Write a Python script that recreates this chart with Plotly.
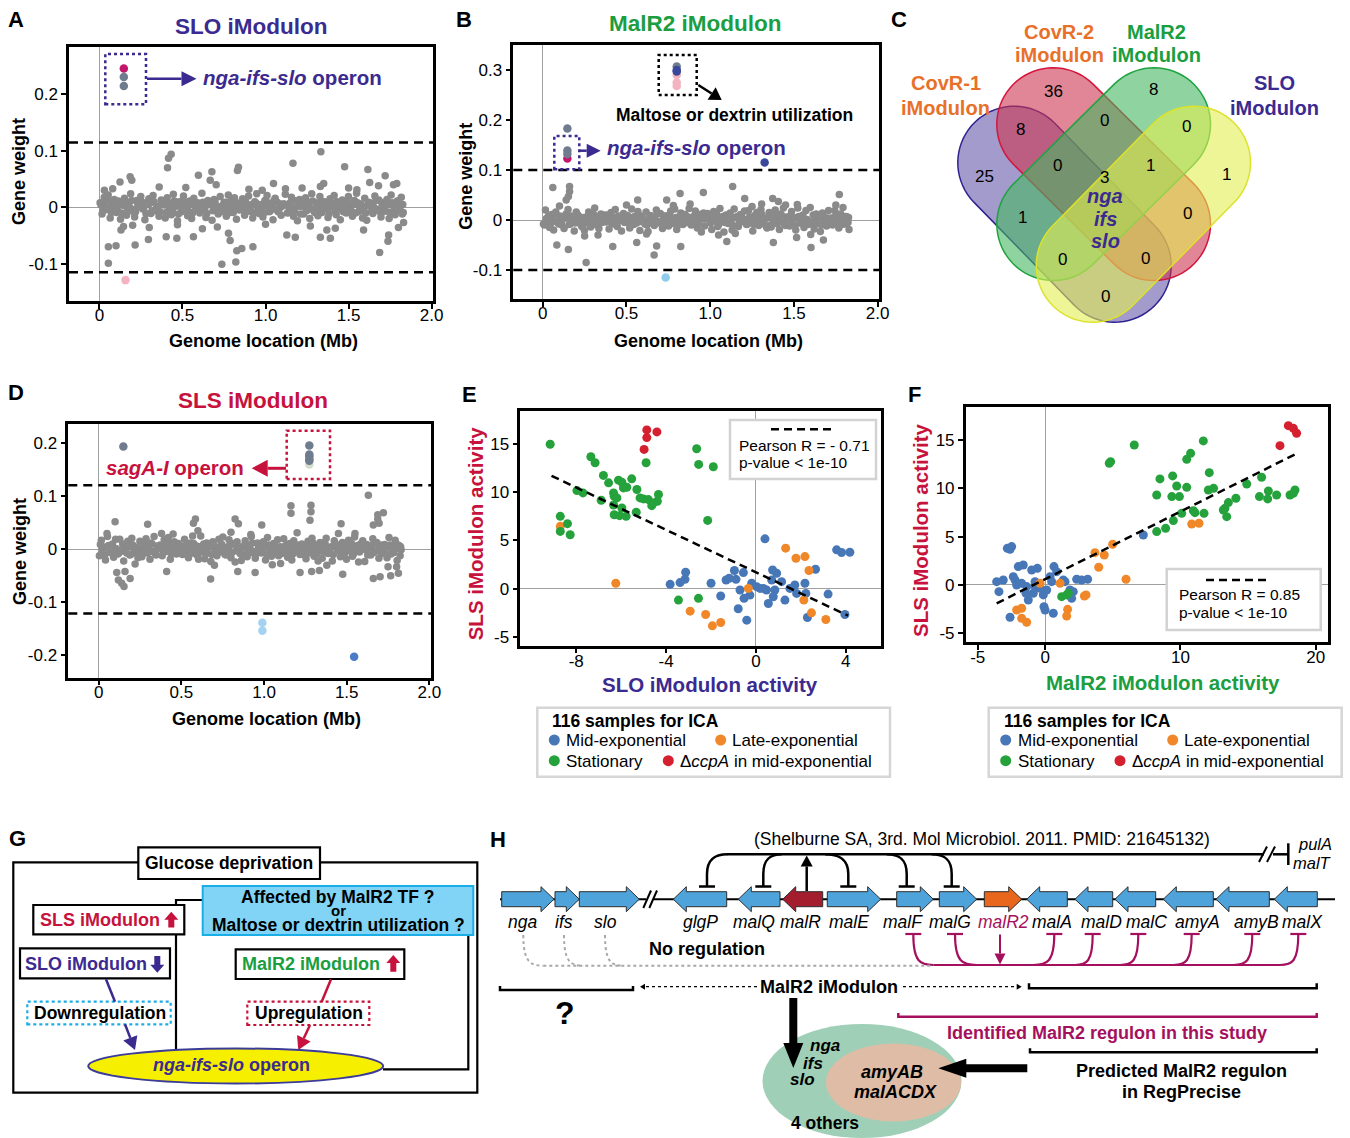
import math
import plotly.graph_objects as go

W, H = 1350, 1138
FONT = "Liberation Sans, Arial, sans-serif"

# ======================= DATA =======================
# genome locations (Mb) of background genes (shared by panels A, B, D)
gene_loc = [0.004,0.016,0.029,0.041,0.053,0.065,0.078,0.09,0.102,0.114,
            0.127,0.139,0.151,0.163,0.176,0.188,0.2,0.212,0.225,0.237,
            0.249,0.261,0.274,0.286,0.298,0.31,0.323,0.335,0.347,0.359,
            0.372,0.384,0.396,0.408,0.421,0.433,0.445,0.457,0.47,0.482,
            0.494,0.506,0.519,0.531,0.543,0.555,0.568,0.58,0.592,0.604,
            0.617,0.629,0.641,0.653,0.666,0.678,0.69,0.702,0.715,0.727,
            0.739,0.751,0.764,0.776,0.788,0.8,0.813,0.825,0.837,0.849,
            0.862,0.874,0.886,0.898,0.911,0.923,0.935,0.947,0.96,0.972,
            0.984,0.996,1.009,1.021,1.033,1.045,1.058,1.07,1.082,1.094,
            1.107,1.119,1.131,1.143,1.156,1.168,1.18,1.192,1.205,1.217,
            1.229,1.241,1.254,1.266,1.278,1.29,1.303,1.315,1.327,1.339,
            1.352,1.364,1.376,1.388,1.401,1.413,1.425,1.437,1.45,1.462,
            1.474,1.486,1.499,1.511,1.523,1.535,1.548,1.56,1.572,1.584,
            1.597,1.609,1.621,1.633,1.646,1.658,1.67,1.682,1.695,1.707,
            1.719,1.731,1.744,1.756,1.768,1.78,1.793,1.805,1.817,1.829]
gene_loc2 = [0.01,0.022,0.035,0.047,0.059,0.071,0.084,0.096,0.108,0.12,
             0.133,0.145,0.157,0.169,0.182,0.194,0.206,0.218,0.231,0.243,
             0.255,0.267,0.28,0.292,0.304,0.316,0.329,0.341,0.353,0.365,
             0.378,0.39,0.402,0.414,0.427,0.439,0.451,0.463,0.476,0.488,
             0.5,0.512,0.525,0.537,0.549,0.561,0.574,0.586,0.598,0.61,
             0.623,0.635,0.647,0.659,0.672,0.684,0.696,0.708,0.721,0.733,
             0.745,0.757,0.77,0.782,0.794,0.806,0.819,0.831,0.843,0.855,
             0.868,0.88,0.892,0.904,0.917,0.929,0.941,0.953,0.966,0.978,
             0.99,1.002,1.015,1.027,1.039,1.051,1.064,1.076,1.088,1.1,
             1.113,1.125,1.137,1.149,1.162,1.174,1.186,1.198,1.211,1.223,
             1.235,1.247,1.26,1.272,1.284,1.296,1.309,1.321,1.333,1.345,
             1.358,1.37,1.382,1.394,1.407,1.419,1.431,1.443,1.456,1.468,
             1.48,1.492,1.505,1.517,1.529,1.541,1.554,1.566,1.578,1.59,
             1.603,1.615,1.627,1.639,1.652,1.664,1.676,1.688,1.701,1.713,
             1.725,1.737,1.75,1.762,1.774,1.786,1.799,1.811,1.823,1.826]

w_slo = [0.008,-0.012,0.018,-0.004,0.022,-0.019,0.003,0.014,-0.009,0.011,
         -0.021,0.006,0.016,-0.014,0.001,0.024,-0.007,-0.017,0.012,0.004,
         0.019,-0.003,-0.022,0.009,0.015,-0.011,0.021,-0.006,0.002,-0.016,
         0.013,0.007,-0.019,0.017,-0.001,-0.013,0.023,0.005,-0.024,0.01,
         -0.008,0.02,0.003,-0.015,0.011,-0.02,0.016,-0.002,0.008,-0.01,
         0.025,-0.005,-0.018,0.012,0.006,-0.023,0.014,0.0,-0.012,0.019,
         -0.004,0.009,-0.016,0.022,-0.009,0.004,0.017,-0.021,0.007,-0.001,
         0.015,-0.014,0.002,0.02,-0.006,-0.019,0.01,0.024,-0.011,0.005,
         -0.017,0.012,0.021,-0.008,0.003,-0.022,0.016,0.009,-0.003,-0.014,
         0.006,0.023,-0.01,-0.001,0.018,-0.016,0.011,-0.024,0.014,0.002,
         -0.012,0.017,0.004,-0.02,0.024,-0.006,0.008,-0.015,0.019,-0.009,
         0.01,-0.002,-0.018,0.015,0.001,0.021,-0.013,0.007,-0.022,0.013,
         0.003,-0.01,0.019,-0.005,-0.016,0.012,0.025,-0.008,0.006,-0.019,
         0.016,-0.023,0.009,0.002,-0.011,0.02,-0.004,0.013,-0.017,0.008,
         -0.007,0.014,-0.02,0.022,0.005,-0.013,0.011,-0.001,0.018,-0.009]
w2_slo = [0.004,-0.006,0.009,-0.002,0.011,-0.009,0.001,0.007,-0.005,0.005,
          -0.01,0.003,0.008,-0.007,0.0,0.012,-0.004,-0.008,0.006,0.002,
          0.009,-0.001,-0.011,0.005,0.007,-0.006,0.01,-0.003,0.001,-0.008,
          0.006,0.004,-0.009,0.008,-0.001,-0.006,0.011,0.002,-0.012,0.005,
          -0.004,0.01,0.002,-0.007,0.005,-0.01,0.008,-0.001,0.004,-0.005,
          0.009,-0.001,-0.011,0.005,0.007,-0.006,0.01,-0.003,0.001,-0.008,
          0.004,-0.006,0.009,-0.002,0.011,-0.009,0.001,0.007,-0.005,0.005,
          -0.004,0.01,0.002,-0.007,0.005,-0.01,0.008,-0.001,0.004,-0.005,
          -0.01,0.003,0.008,-0.007,0.0,0.012,-0.004,-0.008,0.006,0.002,
          0.006,0.004,-0.009,0.008,-0.001,-0.006,0.011,0.002,-0.012,0.005,
          0.004,-0.006,0.009,-0.002,0.011,-0.009,0.001,0.007,-0.005,0.005,
          0.009,-0.001,-0.011,0.005,0.007,-0.006,0.01,-0.003,0.001,-0.008,
          -0.004,0.01,0.002,-0.007,0.005,-0.01,0.008,-0.001,0.004,-0.005,
          -0.01,0.003,0.008,-0.007,0.0,0.012,-0.004,-0.008,0.006,0.002,
          0.006,0.004,-0.009,0.008,-0.001,-0.006,0.011,0.002,-0.012,0.005]

w_malr2 = [-0.008,0.02,0.003,-0.015,0.011,-0.02,0.016,-0.002,0.008,-0.01,
           -0.017,0.012,0.021,-0.008,0.003,-0.022,0.016,0.009,-0.003,-0.014,
           -0.021,0.006,0.016,-0.014,0.001,0.024,-0.007,-0.017,0.012,0.004,
           0.01,-0.002,-0.018,0.015,0.001,0.021,-0.013,0.007,-0.022,0.013,
           -0.004,0.009,-0.016,0.022,-0.009,0.004,0.017,-0.021,0.007,-0.001,
           0.016,-0.023,0.009,0.002,-0.011,0.02,-0.004,0.013,-0.017,0.008,
           0.008,-0.012,0.018,-0.004,0.022,-0.019,0.003,0.014,-0.009,0.011,
           0.006,0.023,-0.01,-0.001,0.018,-0.016,0.011,-0.024,0.014,0.002,
           0.013,0.007,-0.019,0.017,-0.001,-0.013,0.023,0.005,-0.024,0.01,
           -0.007,0.014,-0.02,0.022,0.005,-0.013,0.011,-0.001,0.018,-0.009,
           0.019,-0.003,-0.022,0.009,0.015,-0.011,0.021,-0.006,0.002,-0.016,
           0.015,-0.014,0.002,0.02,-0.006,-0.019,0.01,0.024,-0.011,0.005,
           -0.012,0.017,0.004,-0.02,0.024,-0.006,0.008,-0.015,0.019,-0.009,
           0.025,-0.005,-0.018,0.012,0.006,-0.023,0.014,0.0,-0.012,0.019,
           0.003,-0.01,0.019,-0.005,-0.016,0.012,0.025,-0.008,0.006,-0.019]
w2_malr2 = [-0.01,0.003,0.008,-0.007,0.0,0.012,-0.004,-0.008,0.006,0.002,
            0.006,0.004,-0.009,0.008,-0.001,-0.006,0.011,0.002,-0.012,0.005,
            0.004,-0.006,0.009,-0.002,0.011,-0.009,0.001,0.007,-0.005,0.005,
            -0.004,0.01,0.002,-0.007,0.005,-0.01,0.008,-0.001,0.004,-0.005,
            0.009,-0.001,-0.011,0.005,0.007,-0.006,0.01,-0.003,0.001,-0.008,
            -0.01,0.003,0.008,-0.007,0.0,0.012,-0.004,-0.008,0.006,0.002,
            -0.004,0.01,0.002,-0.007,0.005,-0.01,0.008,-0.001,0.004,-0.005,
            0.006,0.004,-0.009,0.008,-0.001,-0.006,0.011,0.002,-0.012,0.005,
            0.004,-0.006,0.009,-0.002,0.011,-0.009,0.001,0.007,-0.005,0.005,
            0.009,-0.001,-0.011,0.005,0.007,-0.006,0.01,-0.003,0.001,-0.008,
            0.006,0.004,-0.009,0.008,-0.001,-0.006,0.011,0.002,-0.012,0.005,
            -0.01,0.003,0.008,-0.007,0.0,0.012,-0.004,-0.008,0.006,0.002,
            0.009,-0.001,-0.011,0.005,0.007,-0.006,0.01,-0.003,0.001,-0.008,
            -0.004,0.01,0.002,-0.007,0.005,-0.01,0.008,-0.001,0.004,-0.005,
            0.004,-0.006,0.009,-0.002,0.011,-0.009,0.001,0.007,-0.005,0.005]

w_sls = [-0.012,0.017,0.004,-0.02,0.024,-0.006,0.008,-0.015,0.019,-0.009,
         0.019,-0.003,-0.022,0.009,0.015,-0.011,0.021,-0.006,0.002,-0.016,
         0.015,-0.014,0.002,0.02,-0.006,-0.019,0.01,0.024,-0.011,0.005,
         0.008,-0.012,0.018,-0.004,0.022,-0.019,0.003,0.014,-0.009,0.011,
         0.003,-0.01,0.019,-0.005,-0.016,0.012,0.025,-0.008,0.006,-0.019,
         0.025,-0.005,-0.018,0.012,0.006,-0.023,0.014,0.0,-0.012,0.019,
         0.006,0.023,-0.01,-0.001,0.018,-0.016,0.011,-0.024,0.014,0.002,
         -0.021,0.006,0.016,-0.014,0.001,0.024,-0.007,-0.017,0.012,0.004,
         -0.007,0.014,-0.02,0.022,0.005,-0.013,0.011,-0.001,0.018,-0.009,
         -0.008,0.02,0.003,-0.015,0.011,-0.02,0.016,-0.002,0.008,-0.01,
         0.01,-0.002,-0.018,0.015,0.001,0.021,-0.013,0.007,-0.022,0.013,
         -0.017,0.012,0.021,-0.008,0.003,-0.022,0.016,0.009,-0.003,-0.014,
         0.013,0.007,-0.019,0.017,-0.001,-0.013,0.023,0.005,-0.024,0.01,
         0.016,-0.023,0.009,0.002,-0.011,0.02,-0.004,0.013,-0.017,0.008,
         -0.004,0.009,-0.016,0.022,-0.009,0.004,0.017,-0.021,0.007,-0.001]
w2_sls = [0.009,-0.001,-0.011,0.005,0.007,-0.006,0.01,-0.003,0.001,-0.008,
          -0.004,0.01,0.002,-0.007,0.005,-0.01,0.008,-0.001,0.004,-0.005,
          -0.01,0.003,0.008,-0.007,0.0,0.012,-0.004,-0.008,0.006,0.002,
          0.004,-0.006,0.009,-0.002,0.011,-0.009,0.001,0.007,-0.005,0.005,
          0.006,0.004,-0.009,0.008,-0.001,-0.006,0.011,0.002,-0.012,0.005,
          -0.004,0.01,0.002,-0.007,0.005,-0.01,0.008,-0.001,0.004,-0.005,
          0.009,-0.001,-0.011,0.005,0.007,-0.006,0.01,-0.003,0.001,-0.008,
          -0.01,0.003,0.008,-0.007,0.0,0.012,-0.004,-0.008,0.006,0.002,
          0.006,0.004,-0.009,0.008,-0.001,-0.006,0.011,0.002,-0.012,0.005,
          0.004,-0.006,0.009,-0.002,0.011,-0.009,0.001,0.007,-0.005,0.005,
          -0.01,0.003,0.008,-0.007,0.0,0.012,-0.004,-0.008,0.006,0.002,
          -0.004,0.01,0.002,-0.007,0.005,-0.01,0.008,-0.001,0.004,-0.005,
          0.004,-0.006,0.009,-0.002,0.011,-0.009,0.001,0.007,-0.005,0.005,
          0.009,-0.001,-0.011,0.005,0.007,-0.006,0.01,-0.003,0.001,-0.008,
          0.006,0.004,-0.009,0.008,-0.001,-0.006,0.011,0.002,-0.012,0.005]

# scattered (non-member) genes off the core band
a_out_x = [0.432,0.416,1.333,1.165,1.476,1.616,1.72,0.41,0.837,0.831,0.677,0.667,0.596,0.185,0.054,0.1,0.054,0.215,
           0.737,0.821,0.827,0.857,0.787,0.777,0.924,1.687,1.741,1.737,1.369,1.39,1.33,1.179,1.128,0.466,0.402,0.566,
           0.295,1.59,0.13,0.145,1.831,1.79,1.77,1.35,1.627,1.33,1.048,0.195,0.124,0.703,
           0.08,0.3,0.52,0.62,0.9,1.0,1.22,1.42,1.55,1.68,0.2,0.36,0.71,0.98,1.27,1.5,1.8,0.03,0.47,1.12]
a_out_y = [0.094,0.087,0.0985,0.078,0.072,0.067,0.056,0.07,0.071,0.065,0.063,0.048,0.057,0.054,-0.07,-0.068,-0.099,-0.067,
           -0.101,-0.097,-0.077,-0.073,-0.059,-0.046,-0.07,-0.08,-0.049,-0.06,-0.04,-0.055,-0.053,-0.053,-0.049,-0.055,-0.052,-0.052,
           -0.057,-0.04,-0.04,-0.034,-0.027,0.042,0.04,0.042,0.044,0.037,0.042,0.048,0.045,0.04,
           0.033,-0.036,0.035,-0.038,0.032,-0.03,0.034,-0.037,0.031,0.038,-0.032,0.036,-0.035,0.03,-0.033,0.034,-0.036,0.03,-0.031,0.033]
b_out_x = [0.06,0.16,0.16,0.153,0.14,1.134,0.959,0.82,0.74,1.771,1.373,1.407,1.307,1.206,0.567,0.084,0.153,0.259,0.665,
           0.418,0.68,0.824,1.377,1.602,1.516,1.099,0.561,1.676,
           0.1,0.33,0.5,0.62,0.88,1.05,1.25,1.45,1.6,1.75,0.25,0.78,1.15,1.52]
b_out_y = [0.065,0.067,0.057,0.047,0.04,0.067,0.055,0.053,0.04,0.051,0.043,0.037,0.032,0.043,0.04,-0.05,-0.059,-0.085,-0.07,
           -0.053,-0.052,-0.053,-0.045,-0.055,-0.035,-0.043,-0.045,-0.04,
           0.028,-0.03,0.03,-0.028,0.032,-0.03,0.027,0.03,-0.029,0.03,-0.032,0.029,-0.027,0.031]
d_out_x = [1.631,1.163,1.163,1.284,1.284,1.278,1.722,1.688,1.688,1.696,1.661,0.825,0.845,0.585,0.573,0.099,0.296,0.986,1.466,
           0.109,0.119,0.153,0.139,0.19,0.159,0.677,0.841,0.946,1.218,1.288,1.335,1.476,1.661,1.702,1.766,1.813,1.802,0.411,
           0.05,0.22,0.38,0.6,0.7,0.92,1.05,1.2,1.38,1.55,1.75,0.45,0.8,1.1,1.45]
d_out_y = [0.102,0.082,0.068,0.083,0.071,0.055,0.069,0.065,0.057,0.049,0.046,0.057,0.048,0.057,0.049,0.052,0.047,0.046,0.048,
           -0.044,-0.058,-0.07,-0.064,-0.055,-0.042,-0.056,-0.042,-0.044,-0.044,-0.042,-0.04,-0.047,-0.055,-0.052,-0.05,-0.045,-0.033,-0.042,
           0.03,-0.028,0.03,0.035,-0.03,0.028,-0.029,0.031,-0.03,0.03,-0.033,0.029,0.032,-0.027,0.03]

# highlighted member genes
a_hi_x = [0.147, 0.147, 0.147, 0.157]
a_hi_y = [0.246, 0.231, 0.215, -0.129]
b_hi_x = [0.147, 0.147, 0.147, 0.147, 0.80, 0.80, 0.80, 0.80, 0.80, 0.80, 1.325, 0.734]
b_hi_y = [0.123, 0.132, 0.139, 0.183, 0.268, 0.275, 0.290, 0.307, 0.300, 0.297, 0.115, -0.115]
d_hi_x = [0.149, 1.274, 1.274, 1.274, 1.274, 1.274, 1.274, 0.99, 0.99, 1.545]
d_hi_y = [0.194, 0.160, 0.167, 0.170, 0.175, 0.179, 0.196, -0.1385, -0.1535, -0.2026]

thr_slo, thr_malr2, thr_sls = 0.115, 0.100, 0.121

wt_x_ticks = [0, 0.5, 1.0, 1.5, 2.0]
wt_x_text = ["0", "0.5", "1.0", "1.5", "2.0"]
a_y_ticks, a_y_text = [-0.1, 0, 0.1, 0.2], ["-0.1", "0", "0.1", "0.2"]
b_y_ticks, b_y_text = [-0.1, 0, 0.1, 0.2, 0.3], ["-0.1", "0", "0.1", "0.2", "0.3"]
d_y_ticks, d_y_text = [-0.2, -0.1, 0, 0.1, 0.2], ["-0.2", "-0.1", "0", "0.1", "0.2"]

# Panel E: SLO activity (x) vs SLS activity (y)
e_mid_x = [0.40,3.59,3.81,4.18,2.65,-3.13,-3.16,-3.38,-3.82,-2.00,-1.57,-1.33,-1.19,-0.96,-0.89,-0.56,-0.71,-0.79,-0.41,-0.53,-0.27,
           -0.19,0.03,0.33,0.47,0.55,0.70,0.74,0.92,0.84,0.77,1.14,1.29,1.73,1.81,2.18,2.22,2.29,3.21,3.96,1.51,0.18]
e_mid_y = [5.17,4.03,3.75,3.78,2.01,1.70,0.97,0.63,0.45,0.56,-0.76,0.90,1.08,1.88,0.97,1.67,-0.14,-2.08,-3.26,-1.00,-0.66,
           0.56,0.21,0.03,-0.14,-1.53,0.90,1.94,1.60,-0.14,-0.83,0.73,-1.18,0.38,-0.49,0.56,-0.49,-2.99,-0.56,-2.67,0.03,0.03]
e_late_x = [-8.71,-6.24,-2.93,-2.24,-1.94,-1.57,1.32,1.78,2.18,2.36,2.13,2.47,3.11,-0.34]
e_late_y = [6.46,0.56,-2.33,-2.67,-3.85,-3.51,4.20,3.16,3.33,1.88,-1.18,-2.50,-3.19,0.03]
e_stat_x = [-9.16,-7.35,-7.16,-6.79,-6.56,-6.12,-5.97,-5.53,-7.97,-7.70,-6.89,-6.34,-6.31,-6.34,-6.19,-5.90,-5.75,-5.30,-5.16,-5.01,
            -4.79,-4.64,-4.34,-4.39,-5.97,-6.31,-6.07,-5.78,-5.33,-8.71,-8.39,-8.71,-8.27,-4.89,-2.64,-2.55,-1.90,-2.15,-3.45,-2.56,-4.56]
e_stat_y = [14.97,13.68,13.06,11.74,10.97,11.25,11.04,11.39,10.17,9.93,9.17,9.93,9.58,8.68,9.41,10.45,10.52,10.28,9.41,9.31,
            9.24,8.61,9.76,9.06,8.37,7.67,7.57,7.50,7.92,7.50,6.74,5.94,5.59,13.06,14.51,12.88,12.64,7.08,-1.18,-1.00,8.89]
e_ccpa_x = [-4.86,-4.86,-4.98,-4.41]
e_ccpa_y = [16.46,15.66,14.44,16.25]
e_fit_x, e_fit_y = [-9.1, 4.1], [11.7, -2.8]

# Panel F: MalR2 activity (x) vs SLS activity (y)
f_mid_x = [7.25,-2.81,-2.49,-2.61,-3.60,-3.43,-2.61,-2.37,-2.24,-2.00,-1.63,-1.01,-0.59,-2.12,-1.75,-1.38,-1.26,-0.89,-0.76,-0.39,
           -0.15,0.10,-0.10,-0.02,0.59,0.64,0.84,0.35,0.47,1.33,1.46,1.82,2.07,1.95,2.32,2.69,3.13,-3.11,-0.76,-1.43]
f_mid_y = [5.17,3.79,3.97,3.69,0.34,-0.69,-3.34,0.86,0.52,1.90,2.07,1.55,1.72,0.00,0.17,-0.17,-1.55,-0.86,-0.17,-0.34,
           -1.03,-0.52,-2.24,-2.59,-2.93,1.90,1.38,0.86,0.34,0.52,0.34,-0.52,-0.69,-1.38,0.59,0.52,0.59,0.52,0.34,-0.86]
f_late_x = [10.83,11.37,4.98,3.67,4.36,3.95,5.97,1.09,1.65,1.58,2.89,3.01,-2.12,-1.75,-1.75,-1.38,-0.39]
f_late_y = [6.31,6.38,4.21,3.34,3.10,1.83,0.59,0.17,-2.52,-3.21,-1.14,-1.03,-2.59,-2.41,-3.45,-3.86,0.17]
f_stat_x = [4.83,4.73,6.58,11.69,10.75,10.46,12.13,8.48,9.42,8.24,9.36,9.72,9.92,10.46,12.06,12.45,14.90,16.00,15.84,16.50,
            16.45,17.11,18.10,18.47,18.35,14.10,13.54,13.29,13.17,13.42,10.95,11.07,11.74,10.09,9.47,8.90,8.24,1.21,1.58,1.70]
f_stat_y = [12.76,12.59,14.48,14.90,13.62,13.00,11.62,10.97,11.28,9.31,9.14,10.24,9.14,10.10,9.83,10.00,10.45,11.14,9.14,9.72,
            8.90,9.31,9.31,9.83,9.48,8.97,8.52,7.93,7.76,7.07,7.69,7.48,7.41,7.41,6.66,5.86,5.52,-1.21,-1.03,-0.86]
f_ccpa_x = [17.98,18.35,18.59,17.36]
f_ccpa_y = [16.48,16.20,15.69,14.41]
f_fit_x, f_fit_y = [-3.6, 18.6], [-1.9, 13.6]

e_x_ticks, e_x_text = [-8, -4, 0, 4], ["-8", "-4", "0", "4"]
act_y_ticks, act_y_text = [-5, 0, 5, 10, 15], ["-5", "0", "5", "10", "15"]
f_x_ticks, f_x_text = [-5, 0, 10, 20], ["-5", "0", "10", "20"]

legend_title = "116 samples for ICA"
legend_labels = ["Mid-exponential", "Late-exponential", "Stationary", "\u0394<i>ccpA</i> in mid-exponential"]
pearson_e = "Pearson R = - 0.71"
pearson_f = "Pearson R = 0.85"

venn_counts = ["36", "8", "8", "0", "0", "25", "0", "1", "1", "3", "1", "0", "0", "0", "0"]
venn_sets = ["CovR-1", "CovR-2", "MalR2", "SLO"]

gene_names = ["nga", "ifs", "slo", "glgP", "malQ", "malR", "malE", "malF", "malG", "malR2",
              "malA", "malD", "malC", "amyA", "amyB", "malX"]

# ======================= HELPERS =======================
shapes, annots = [], []
def X(p): return p / W
def Y(p): return 1 - p / H
def P(x, y): return f"{X(x):.5f},{Y(y):.5f}"

def text(x, y, s, size, color="black", bold=False, italic=False, anchor="center", angle=0):
    if italic: s = "<i>" + s + "</i>"
    if bold: s = "<b>" + s + "</b>"
    annots.append(dict(x=X(x), y=Y(y), xref="paper", yref="paper", text=s, showarrow=False,
                       font=dict(size=size, color=color, family=FONT), xanchor=anchor,
                       yanchor="middle", textangle=angle, borderpad=0))

def seg(x0, y0, x1, y1, color="black", width=2, dash="solid"):
    shapes.append(dict(type="line", xref="paper", yref="paper", x0=X(x0), y0=Y(y0), x1=X(x1), y1=Y(y1),
                       line=dict(color=color, width=width, dash=dash)))

def box(x0, y0, x1, y1, color="black", width=2, fill="rgba(0,0,0,0)", dash="solid"):
    shapes.append(dict(type="rect", xref="paper", yref="paper", x0=X(x0), y0=Y(y1), x1=X(x1), y1=Y(y0),
                       line=dict(color=color, width=width, dash=dash), fillcolor=fill))

def oval(cx, cy, rx, ry, fill, color=None, width=0):
    shapes.append(dict(type="circle", xref="paper", yref="paper", x0=X(cx - rx), x1=X(cx + rx),
                       y0=Y(cy + ry), y1=Y(cy - ry), fillcolor=fill,
                       line=dict(color=color or fill, width=width)))

def poly(pts, fill, color=None, width=0):
    d = "M " + " L ".join(P(x, y) for x, y in pts) + " Z"
    shapes.append(dict(type="path", xref="paper", yref="paper", path=d, fillcolor=fill,
                       line=dict(color=color or fill, width=width)))

def openpath(d, color, width=2, dash="solid"):
    shapes.append(dict(type="path", xref="paper", yref="paper", path=d, fillcolor="rgba(0,0,0,0)",
                       line=dict(color=color, width=width, dash=dash)))

def polyline(pts, color, width=2, dash="solid"):
    openpath("M " + " L ".join(P(x, y) for x, y in pts), color, width, dash)

def arrow(x0, y0, x1, y1, color, width=2, hl=10, hw=5, dash="solid"):
    L = math.hypot(x1 - x0, y1 - y0); ux, uy = (x1 - x0) / L, (y1 - y0) / L
    bx, by = x1 - ux * hl, y1 - uy * hl
    seg(x0, y0, bx, by, color, width, dash)
    poly([(x1, y1), (bx - uy * hw, by + ux * hw), (bx + uy * hw, by - ux * hw)], color)

def block_arrow(x0, y0, x1, y1, sw, hl, hw, color):
    L = math.hypot(x1 - x0, y1 - y0); ux, uy = (x1 - x0) / L, (y1 - y0) / L
    px, py = -uy, ux
    bx, by = x1 - ux * hl, y1 - uy * hl
    s = sw / 2
    pts = [(x0 + px * s, y0 + py * s), (bx + px * s, by + py * s), (bx + px * hw, by + py * hw), (x1, y1),
           (bx - px * hw, by - py * hw), (bx - px * s, by - py * s), (x0 - px * s, y0 - py * s)]
    poly(pts, color)

def capsule(c1, c2, r, fill, color):
    dx, dy = c2[0] - c1[0], c2[1] - c1[1]
    L = math.hypot(dx, dy); ux, uy = dx / L, dy / L; px, py = -uy, ux
    pts = []
    for i in range(37):
        t = math.pi * i / 36
        pts.append((c2[0] + r * (math.cos(t) * px + math.sin(t) * ux), c2[1] + r * (math.cos(t) * py + math.sin(t) * uy)))
    for i in range(37):
        t = math.pi * i / 36
        pts.append((c1[0] - r * (math.cos(t) * px + math.sin(t) * ux), c1[1] - r * (math.cos(t) * py + math.sin(t) * uy)))
    poly(pts, fill, color, 1.5)

def gene(xa, xb, d, fill, yc=899.2, hb=7.5, hh=12.5, hl=13):
    if d == "R":
        pts = [(xa, yc - hb), (xb - hl, yc - hb), (xb - hl, yc - hh), (xb, yc), (xb - hl, yc + hh), (xb - hl, yc + hb), (xa, yc + hb)]
    else:
        pts = [(xb, yc - hb), (xa + hl, yc - hb), (xa + hl, yc - hh), (xa, yc), (xa + hl, yc + hh), (xa + hl, yc + hb), (xb, yc + hb)]
    poly(pts, fill, "#2e2e2e", 1)

# ======================= COLORS =======================
PURPLE = "#3b2a8f"; GREEN = "#1a9e40"; CRIMSON = "#c6123c"; MAGENTA = "#a5105e"; ORANGE_T = "#e8712a"
GRAY = "#8a8a8a"; SLATE = "#6f7c8e"; PINK = "#f3b4c0"; MAG_PT = "#c3176c"; NAVY = "#3a489c"
C_MID, C_LATE, C_STAT, C_CCPA = "#4777b6", "#f0882a", "#25a23b", "#d4202f"

fig = go.Figure()

def axis_common(**kw):
    d = dict(showline=True, mirror=True, linecolor="black", linewidth=2.5, ticks="outside", ticklen=5,
             tickwidth=1.5, tickcolor="black", showgrid=False, zeroline=True, zerolinecolor="#a0a0a0",
             zerolinewidth=1, tickfont=dict(size=17, color="black", family=FONT), tickmode="array",
             automargin=False)
    d.update(kw)
    return d

def dom(x0, x1, y0, y1):
    return [X(x0), X(x1)], [Y(y1), Y(y0)]

# ---- gene weight panels
panels = [
    ("", (69, 433, 47, 301), [-0.183, 2.008], [-0.166, 0.284], a_y_ticks, a_y_text, w_slo, w2_slo, a_out_x, a_out_y, thr_slo),
    ("2", (513.3, 879, 45, 299), [-0.176, 2.008], [-0.158, 0.35], b_y_ticks, b_y_text, w_malr2, w2_malr2, b_out_x, b_out_y, thr_malr2),
    ("3", (68.3, 431, 424.3, 677.7), [-0.184, 2.01], [-0.2423, 0.2358], d_y_ticks, d_y_text, w_sls, w2_sls, d_out_x, d_out_y, thr_sls),
]
layout_axes = {}
for sfx, (l, r, t, b), xr, yr, yt, ytt, w, w2, ox, oy, thr in panels:
    xd, yd = dom(l, r, t, b)
    layout_axes["xaxis" + sfx] = axis_common(domain=xd, range=xr, tickvals=wt_x_ticks, ticktext=wt_x_text,
                                             anchor="y" + sfx, ticklabelstandoff=-8)
    layout_axes["yaxis" + sfx] = axis_common(domain=yd, range=yr, tickvals=yt, ticktext=ytt, anchor="x" + sfx)
    for gx, gy in ((gene_loc, w), (gene_loc2, w2), (ox, oy)):
        fig.add_trace(go.Scatter(x=gx, y=gy, mode="markers", xaxis="x" + sfx, yaxis="y" + sfx,
                                 marker=dict(size=7.5, color=GRAY), showlegend=False, hoverinfo="skip"))
    for yv in (thr, -thr):
        shapes.append(dict(type="line", xref="x" + sfx + " domain", yref="y" + sfx, x0=0, x1=1, y0=yv, y1=yv,
                           line=dict(color="black", width=2.5, dash="9px,6px")))

a_hi_col = [MAG_PT, SLATE, SLATE, PINK]
b_hi_col = [MAG_PT, SLATE, SLATE, SLATE, PINK, PINK, PINK, SLATE, NAVY, NAVY, NAVY, "#8fcbea"]
d_hi_col = [SLATE, "#d4dccb", SLATE, SLATE, SLATE, SLATE, SLATE, "#a5d2f1", "#a5d2f1", "#4a7cc8"]
for sfx, hx, hy, hc in (("", a_hi_x, a_hi_y, a_hi_col), ("2", b_hi_x, b_hi_y, b_hi_col), ("3", d_hi_x, d_hi_y, d_hi_col)):
    fig.add_trace(go.Scatter(x=hx, y=hy, mode="markers", xaxis="x" + sfx, yaxis="y" + sfx,
                             marker=dict(size=8.5, color=hc), showlegend=False, hoverinfo="skip"))

# ---- activity panels E / F
for sfx, (l, r, t, b), xr, yr, xt, xtt, groups, fx, fy in (
    ("4", (520.3, 881, 411, 645.7), [-10.49, 5.565], [-5.91, 18.42], e_x_ticks, e_x_text,
     [(e_mid_x, e_mid_y, C_MID), (e_late_x, e_late_y, C_LATE), (e_stat_x, e_stat_y, C_STAT), (e_ccpa_x, e_ccpa_y, C_CCPA)],
     e_fit_x, e_fit_y),
    ("5", (965.7, 1327.7, 407.3, 642.3), [-5.89, 20.89], [-5.93, 18.38], f_x_ticks, f_x_text,
     [(f_mid_x, f_mid_y, C_MID), (f_late_x, f_late_y, C_LATE), (f_stat_x, f_stat_y, C_STAT), (f_ccpa_x, f_ccpa_y, C_CCPA)],
     f_fit_x, f_fit_y)):
    xd, yd = dom(l, r, t, b)
    layout_axes["xaxis" + sfx] = axis_common(domain=xd, range=xr, tickvals=xt, ticktext=xtt, anchor="y" + sfx,
                                             ticklabelstandoff=-7)
    layout_axes["yaxis" + sfx] = axis_common(domain=yd, range=yr, tickvals=act_y_ticks, ticktext=act_y_text, anchor="x" + sfx)
    for gx, gy, col in groups:
        fig.add_trace(go.Scatter(x=gx, y=gy, mode="markers", xaxis="x" + sfx, yaxis="y" + sfx,
                                 marker=dict(size=9, color=col), showlegend=False, hoverinfo="skip"))
    fig.add_trace(go.Scatter(x=fx, y=fy, mode="lines", xaxis="x" + sfx, yaxis="y" + sfx,
                             line=dict(color="black", width=2.5, dash="8px,5px"), showlegend=False, hoverinfo="skip"))

# ======================= ANNOTATIONS: A, B, D =======================
LET = 22
text(16, 19.5, "A", LET, bold=True); text(463.8, 19.5, "B", LET, bold=True); text(899, 19.5, "C", LET, bold=True)
text(16, 392.8, "D", LET, bold=True); text(469, 394, "E", LET, bold=True); text(914.5, 394, "F", LET, bold=True)
text(17, 838, "G", LET, bold=True); text(498, 839, "H", LET, bold=True)

text(251.3, 26.7, "SLO iModulon", 22.5, PURPLE, bold=True)
text(695.5, 24, "MalR2 iModulon", 22.5, GREEN, bold=True)
text(252.8, 400.7, "SLS iModulon", 22.5, CRIMSON, bold=True)
for cx, cy in ((263.8, 340.7), (708.3, 340.7), (266, 719)):
    text(cx, cy, "Genome location (Mb)", 18, bold=True)
for cx, cy in ((19, 172), (466, 176.7), (19.3, 551.7)):
    text(cx, cy, "Gene weight", 18, bold=True, angle=-90)

box(105.3, 54, 146, 104.3, PURPLE, 2.5, dash="dot")
arrow(147, 78.7, 196.5, 78.7, PURPLE, 2.5, 15, 7.5)
text(202, 77, "<i>nga-ifs-slo</i> operon", 20.5, PURPLE, bold=True, anchor="left")
box(658.7, 55, 696.7, 95, "black", 2.5, dash="dot")
arrow(698.3, 85, 721.7, 100, "black", 2.5, 12, 7.5)
text(734.5, 115, "Maltose or dextrin utilization", 17.5, bold=True)
box(554.3, 136, 579.3, 169.3, PURPLE, 2.5, dash="dot")
arrow(579.5, 150.7, 600.7, 150.7, PURPLE, 2.5, 14, 7)
text(606, 148, "<i>nga-ifs-slo</i> operon", 20.5, PURPLE, bold=True, anchor="left")
box(286.7, 430.7, 330, 479, CRIMSON, 2.5, dash="dot")
arrow(286, 468.3, 251.7, 468.3, CRIMSON, 3, 16, 8.5)
text(245, 467, "<i>sagA-I</i> operon", 20.5, CRIMSON, bold=True, anchor="right")

# ======================= E / F text and legends =======================
text(475, 533.3, "SLS iModulon activity", 20.5, CRIMSON, bold=True, angle=-90)
text(709.7, 684.5, "SLO iModulon activity", 20.5, PURPLE, bold=True)
text(920, 530, "SLS iModulon activity", 20.5, CRIMSON, bold=True, angle=-90)
text(1162.5, 682, "MalR2 iModulon activity", 20.5, GREEN, bold=True)

box(730, 420, 876, 479, "#d2d2d2", 2.5, fill="white")
seg(771, 429.3, 835, 429.3, "black", 2.5, "8px,5px")
text(738, 445.3, pearson_e, 15.5, anchor="left")
text(738, 462, "p-value &lt; 1e-10", 15.5, anchor="left")
box(1166.7, 569, 1320.7, 630, "#d2d2d2", 2.5, fill="white")
seg(1206, 580, 1270, 580, "black", 2.5, "8px,5px")
text(1177.7, 595, pearson_f, 15.5, anchor="left")
text(1177.7, 612.3, "p-value &lt; 1e-10", 15.5, anchor="left")

for (bx0, bx1, tx, m1, t1, m2, t2, m4, t4) in ((537.3, 890, 550.7, 554.3, 565, 720.7, 731, 668.3, 679.3),
                                               (988.7, 1341.7, 1002.7, 1005.7, 1016.7, 1172.7, 1183.3, 1120, 1131)):
    box(bx0, 707.7, bx1, 776.7, "#d6d6d6", 2.5, fill="white")
    text(tx, 720.7, legend_title, 17.5, bold=True, anchor="left")
    oval(m1, 740, 5.5, 5.5, C_MID); text(t1, 740.5, legend_labels[0], 17, anchor="left")
    oval(m2, 740, 5.5, 5.5, C_LATE); text(t2, 740.5, legend_labels[1], 17, anchor="left")
    oval(m1, 760.7, 5.5, 5.5, C_STAT); text(t1, 761.2, legend_labels[2], 17, anchor="left")
    oval(m4, 760.7, 5.5, 5.5, C_CCPA); text(t4, 761.2, legend_labels[3], 17, anchor="left")

# ======================= C: Venn =======================
capsule((1014.3, 162.7), (1114.7, 265.7), 56.5, "rgba(102,88,170,0.6)", "#2e2391")
capsule((1053.3, 124.3), (1154, 224), 56.5, "rgba(205,53,80,0.6)", "#d4163c")
capsule((1154, 124.3), (1053.3, 224), 56.5, "rgba(68,183,97,0.6)", "#1fa33f")
capsule((1194, 162.7), (1092.7, 265.7), 56.5, "rgba(227,238,80,0.6)", "#dde22a")
venn_pos = [(1053.3, 91.7), (1153.3, 90), (1021, 130), (1104.3, 120.7), (1186, 126.7), (984, 176), (1057.3, 165),
            (1150, 165.7), (1226.7, 175), (1104.3, 178), (1022.7, 217.3), (1187.3, 214), (1062.7, 259.3),
            (1145, 258.3), (1105, 296)]
for (vx, vy), c in zip(venn_pos, venn_counts):
    text(vx, vy, c, 17)
text(1105.3, 195.5, "nga", 20, PURPLE, bold=True, italic=True)
text(1105.3, 219, "ifs", 20, PURPLE, bold=True, italic=True)
text(1105.3, 241, "slo", 20, PURPLE, bold=True, italic=True)
text(945.7, 83.3, venn_sets[0], 20, ORANGE_T, bold=True); text(945.7, 108.3, "iModulon", 20, ORANGE_T, bold=True)
text(1059, 32.3, venn_sets[1], 20, ORANGE_T, bold=True); text(1059, 55, "iModulon", 20, ORANGE_T, bold=True)
text(1156.7, 32.3, venn_sets[2], 20, GREEN, bold=True); text(1156.7, 55, "iModulon", 20, GREEN, bold=True)
text(1274, 83.3, venn_sets[3], 20, PURPLE, bold=True); text(1274, 108.3, "iModulon", 20, PURPLE, bold=True)

# ======================= G: schematic =======================
box(13.3, 862.3, 477.3, 1092.7, "black", 2.2)
polyline([(176, 1050), (176, 900), (203, 900)], "black", 2.2)
polyline([(468.3, 935), (468.3, 1069.3), (383, 1069.3)], "black", 2.2)
box(138.3, 847.3, 320, 879, "black", 2.2, fill="white")
text(229, 862.5, "Glucose deprivation", 17.5, bold=True)
box(202.7, 886, 473.3, 935, "#1aaee6", 2, fill="#82d4f6")
text(338, 897, "Affected by MalR2 TF ?", 17.5, bold=True)
text(338, 910.7, "or", 15, bold=True)
text(338, 924.5, "Maltose or dextrin utilization ?", 17.5, bold=True)
box(33.3, 905, 184.3, 934.3, "black", 2.2, fill="white")
text(100, 919.5, "SLS iModulon", 18, CRIMSON, bold=True)
block_arrow(171.3, 927.5, 171.3, 911.7, 6, 8, 7, CRIMSON)
box(20, 948.3, 170, 978.3, "black", 2.2, fill="white")
text(86, 963.5, "SLO iModulon", 18, PURPLE, bold=True)
block_arrow(157.3, 956, 157.3, 972.7, 6, 8, 7, PURPLE)
box(235.7, 949.3, 404.3, 979, "black", 2.2, fill="white")
text(310.8, 964, "MalR2 iModulon", 18, GREEN, bold=True)
block_arrow(393.3, 971.7, 393.3, 955, 6, 8, 7, CRIMSON)
box(27.3, 1001.7, 170.7, 1024.3, "#1aaee6", 2.2, dash="dot")
text(100, 1012.8, "Downregulation", 17.5, bold=True)
box(247.3, 1001.7, 369.3, 1025, CRIMSON, 2.2, dash="dot")
text(309, 1012.8, "Upregulation", 17.5, bold=True)
seg(106, 979.3, 115, 1001.7, PURPLE, 2.5)
arrow(125, 1024.3, 135, 1050, PURPLE, 2.5, 13, 7.5)
seg(331, 979.3, 321.7, 1001.7, CRIMSON, 2.5)
arrow(310, 1025, 298.3, 1050, CRIMSON, 2.5, 13, 7.5)
oval(235.7, 1066, 147.5, 17.5, "#f6f000", "#3b3b9a", 2)
text(232, 1064.5, "<i>nga-ifs-slo</i> operon", 18, PURPLE, bold=True)

# ======================= H: operon schematic =======================
text(981.5, 838.5, "(Shelburne SA, 3rd. Mol Microbiol. 2011. PMID: 21645132)", 17.5)
seg(500, 899.2, 646, 899.2, "black", 2); seg(654, 899.2, 1335, 899.2, "black", 2)
seg(643.3, 908, 651, 890.5, "black", 2); seg(649.3, 908, 657, 890.5, "black", 2)
gene_geom = [(501.7, 554, "R"), (555, 579.3, "R"), (579.3, 639.3, "R"), (673.3, 726.7, "L"), (738.3, 780, "L"),
             (782.7, 822.7, "L"), (827.3, 880.7, "R"), (896.7, 933.3, "R"), (939.3, 976.7, "R"), (984.3, 1021.7, "R"),
             (1026.7, 1067.3, "L"), (1075, 1112.7, "L"), (1115, 1155.7, "L"), (1163.3, 1213.3, "L"),
             (1216, 1269.3, "L"), (1274.3, 1317.3, "L")]
gene_lab_x = [522, 564, 605, 700, 754.3, 800.7, 849.3, 903, 950, 1003.3, 1051.7, 1101.7, 1146.7, 1197.7, 1256, 1302.7]
for name, (xa, xb, dr), lx in zip(gene_names, gene_geom, gene_lab_x):
    fill = "#a41d2e" if name == "malR" else ("#e9661d" if name == "malR2" else "#4fa3db")
    gene(xa, xb, dr, fill)
    text(lx, 921.7, name, 17.5, MAGENTA if name == "malR2" else "black", italic=True)

seg(727, 854.3, 1264, 854.3, "black", 2.5); seg(1273, 854.3, 1288.3, 854.3, "black", 2.5)
seg(1259, 862, 1267, 846.5, "black", 2); seg(1267, 862, 1275, 846.5, "black", 2)
seg(1288.3, 843.3, 1288.3, 865, "black", 2.5)
text(1296.5, 844, "pulA", 16.5, italic=True, anchor="left")
text(1291.5, 863.3, "malT", 16.5, italic=True, anchor="left")
for tx, mx in ((707, 727.5), (763.3, 781.7), (848.3, 825), (906.7, 886.7), (951.7, 931.7)):
    openpath(f"M {P(mx, 854.3)} C {P(tx + (mx - tx) * 0.45, 854.3)} {P(tx, 858)} {P(tx, 874)} L {P(tx, 886.5)}", "black", 2.5)
    seg(tx - 8, 886.5, tx + 8, 886.5, "black", 2.5)
arrow(806.7, 891, 806.7, 855.5, "black", 2.5, 11, 6)

seg(933.3, 965, 1280, 965, MAGENTA, 2.2)
for tx, bx in ((913.3, 933.3), (955, 976.7), (1054.3, 1033.3), (1092.7, 1075), (1138.3, 1120),
               (1191.7, 1173.3), (1252.3, 1233.3), (1298.3, 1280)):
    openpath(f"M {P(tx, 934)} C {P(tx, 962)} {P(tx + (bx - tx) * 0.35, 965)} {P(bx, 965)}", MAGENTA, 2.2)
    seg(tx - 8, 934, tx + 8, 934, MAGENTA, 2.2)
arrow(1000, 934.5, 1000, 964.5, MAGENTA, 2, 11, 5.5)

seg(543.3, 965.7, 933.3, 965.7, "#a8a8a8", 2, "dot")
for tx, bx in ((523.3, 543.3), (564, 583.3), (605, 623.3)):
    openpath(f"M {P(tx, 935)} C {P(tx, 962)} {P(tx + (bx - tx) * 0.35, 965.7)} {P(bx, 965.7)}", "#a8a8a8", 2, "dot")
text(707, 949.3, "No regulation", 18, bold=True)

polyline([(500, 986), (500, 990), (633, 990), (633, 986)], "black", 2.5)
arrow(757, 986.7, 640, 986.7, "black", 1.3, 5, 3, "dot")
text(829, 986.7, "MalR2 iModulon", 18, bold=True)
arrow(903, 986.7, 1021.7, 986.7, "black", 1.3, 5, 3, "dot")
polyline([(1029, 983.3), (1029, 988.3), (1316.7, 988.3), (1316.7, 983.3)], "black", 2.5)
text(565, 1013, "?", 32, bold=True)
polyline([(898.3, 1013), (898.3, 1016.7), (1316.7, 1016.7), (1316.7, 1013)], MAGENTA, 2.5)
text(1106.7, 1033.3, "Identified MalR2 regulon in this study", 18, MAGENTA, bold=True)
polyline([(1030, 1048.3), (1030, 1052.3), (1316.7, 1052.3), (1316.7, 1048.3)], "black", 2.5)
text(1181, 1070.7, "Predicted MalR2 regulon", 18, bold=True)
text(1181, 1092.3, "in RegPrecise", 18, bold=True)

oval(862, 1081, 99.5, 57, "#9fcfb6")
oval(893.5, 1082.5, 67.5, 39, "#dfbca6")
block_arrow(793.3, 998, 793.3, 1068, 8, 25, 10, "black")
block_arrow(1027.3, 1068.3, 938.3, 1068.3, 8, 28, 9.5, "black")
text(825, 1045.7, "nga", 17, bold=True, italic=True)
text(812.7, 1063.3, "ifs", 17, bold=True, italic=True)
text(802.7, 1079.3, "slo", 17, bold=True, italic=True)
text(891.7, 1071.7, "amyAB", 18, bold=True, italic=True)
text(895, 1091.7, "malACDX", 18, bold=True, italic=True)
text(825, 1123.3, "4 others", 17.5, bold=True)

# ======================= LAYOUT =======================
fig.update_layout(width=W, height=H, autosize=False, margin=dict(l=0, r=0, t=0, b=0, pad=0),
                  paper_bgcolor="white", plot_bgcolor="white", font=dict(family=FONT, color="black"),
                  showlegend=False, shapes=shapes, annotations=annots, **layout_axes)
fig.write_html("out.html", config={"displayModeBar": False},
               post_script="document.body.style.margin='0';document.body.style.padding='0';"
                           "document.body.style.overflow='hidden';")
